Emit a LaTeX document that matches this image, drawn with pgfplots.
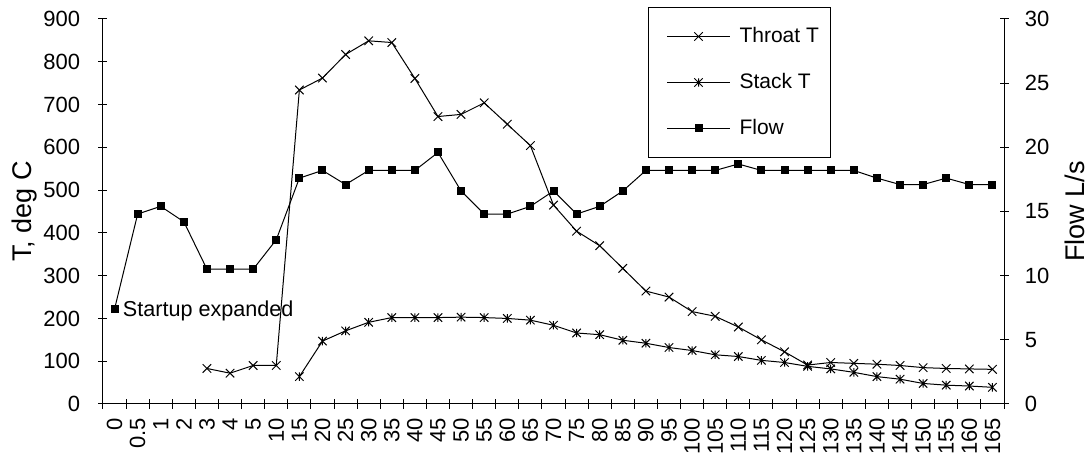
\documentclass[border=0pt]{standalone}
\usepackage{fontspec}
\setmainfont{Liberation Sans}
\usepackage{pgfplots}
\pgfplotsset{compat=1.18}
\pgfdeclareplotmark{xstar}{%
  \pgfpathmoveto{\pgfqpoint{-\pgfplotmarksize}{-\pgfplotmarksize}}%
  \pgfpathlineto{\pgfqpoint{\pgfplotmarksize}{\pgfplotmarksize}}%
  \pgfpathmoveto{\pgfqpoint{-\pgfplotmarksize}{\pgfplotmarksize}}%
  \pgfpathlineto{\pgfqpoint{\pgfplotmarksize}{-\pgfplotmarksize}}%
  \pgfpathmoveto{\pgfqpoint{0pt}{-\pgfplotmarksize}}%
  \pgfpathlineto{\pgfqpoint{0pt}{\pgfplotmarksize}}%
  \pgfusepathqstroke}
\pgfplotsset{
  common/.style={
    at={(0,0)}, anchor=south west,
    scale only axis, width=450.5pt, height=192.5pt,
    xmin=-0.5, xmax=38.5,
    tick align=center,
    major tick length=4.5pt, minor tick length=5pt,
    axis line style={line width=0.5pt, -, black},
    tick style={line width=0.5pt, black},
    ticklabel style={font=\fontsize{11}{13}\selectfont, inner sep=0pt},
    /pgf/number format/assume math mode=true,
    label style={font=\fontsize{13.5}{15}\selectfont},
  },
  throat/.style={black, line width=0.5pt, mark=x, mark size=3pt, mark options={solid}},
  stack/.style={black, line width=0.5pt, mark=xstar, mark size=2.1pt, mark options={solid}},
  flow/.style={black, line width=0.5pt, mark=square*, mark size=1.75pt, mark options={solid}},
}
\begin{document}
\begin{tikzpicture}
\begin{axis}[common,
  ymin=0, ymax=900, ytick={0,100,...,900},
  axis x line*=bottom, axis y line*=left,
  xtick={0,...,38},
  xticklabels={0,0.5,1,2,3,4,5,10,15,20,25,30,35,40,45,50,55,60,65,70,75,80,85,90,95,100,105,110,115,120,125,130,135,140,145,150,155,160,165},
  major x tick style={draw=none},
  minor xtick={-0.5,0.5,...,38.5},
  xticklabel style={rotate=90, anchor=east},
  xticklabel shift=4.5pt,
  yticklabel style={anchor=east, xshift=-9pt},
  ylabel={T, deg C},
  ylabel style={at={(axis description cs:-0.0866,0.5)}, anchor=center},
]
\addplot[throat] coordinates {
(4,83) (5,72) (6,90) (7,90) (8,734) (9,762) (10,817) (11,849) (12,845) (13,761)
(14,672) (15,677) (16,704) (17,654) (18,604) (19,465) (20,404) (21,370) (22,317) (23,264)
(24,250) (25,216) (26,205) (27,180) (28,150) (29,122) (30,91) (31,97) (32,95) (33,93)
(34,90) (35,85) (36,83) (37,82) (38,81)};
\addplot[stack] coordinates {
(8,64) (9,147) (10,171) (11,191) (12,202) (13,202) (14,202) (15,203) (16,202) (17,200)
(18,196) (19,184) (20,166) (21,162) (22,149) (23,142) (24,132) (25,125) (26,115) (27,111)
(28,102) (29,97) (30,88) (31,82) (32,74) (33,64) (34,58) (35,48) (36,44) (37,42) (38,39)};
\end{axis}
\begin{axis}[common,
  ymin=0, ymax=30, ytick={0,5,...,30},
  axis y line*=right, axis x line=none,
  yticklabel style={anchor=west, xshift=8pt},
  ylabel={Flow L/s},
  ylabel style={at={(axis description cs:1.0788,0.5)}, anchor=center},
  legend style={at={(axis description cs:0.6049,1.0312)}, anchor=north west,
    draw=black, line width=0.5pt, font=\fontsize{10.5}{12.5}\selectfont,
    inner xsep=4pt, inner ysep=7.5pt, row sep=9pt,
    nodes={inner sep=2pt, text height=8pt, text depth=2pt}},
  legend cell align=left,
  legend image code/.code={\path (0pt,0pt) (39pt,0pt); \draw[mark repeat=2,mark phase=2,#1] plot coordinates {(5pt,0pt) (20.75pt,0pt) (36.5pt,0pt)};},
]
\addlegendimage{throat}
\addlegendentry{Throat T}
\addlegendimage{stack}
\addlegendentry{Stack T}
\addplot[flow] coordinates {
(0,7.4) (1,14.8) (2,15.4) (3,14.2) (4,10.5) (5,10.5) (6,10.5) (7,12.8) (8,17.6) (9,18.2)
(10,17.1) (11,18.2) (12,18.2) (13,18.2) (14,19.6) (15,16.6) (16,14.8) (17,14.8) (18,15.4) (19,16.6)
(20,14.8) (21,15.4) (22,16.6) (23,18.2) (24,18.2) (25,18.2) (26,18.2) (27,18.7) (28,18.2) (29,18.2)
(30,18.2) (31,18.2) (32,18.2) (33,17.6) (34,17.1) (35,17.1) (36,17.6) (37,17.1) (38,17.1)};
\addlegendentry{Flow}
\node[anchor=base west, inner sep=0pt, font=\fontsize{10.8}{12}\selectfont] at (axis cs:0,7.4) [xshift=4pt, yshift=-3.85pt] {Startup expanded};
\end{axis}
\pgfresetboundingbox
\path (-51.5pt,-27pt) rectangle (492.5pt,202pt);
\end{tikzpicture}
\end{document}
